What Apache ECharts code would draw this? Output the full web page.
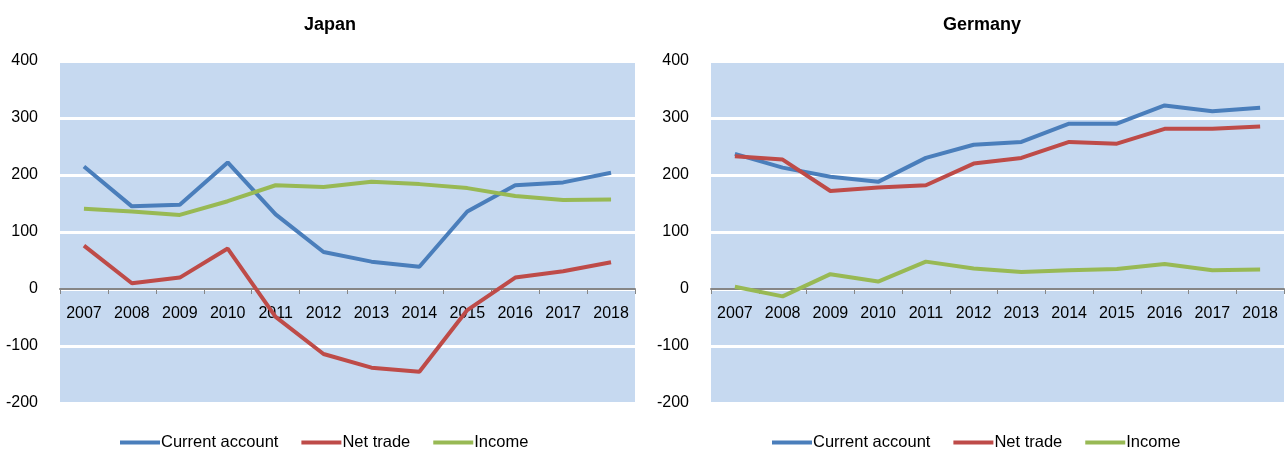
<!DOCTYPE html>
<html>
<head>
<meta charset="UTF-8">
<title>Japan / Germany</title>
<script src="https://cdn.jsdelivr.net/npm/echarts@6/dist/echarts.min.js"></script>
<style>
  html, body { margin: 0; padding: 0; background: #fff; }
  #chart { width: 1285px; height: 449px; }
</style>
</head>
<body>
<div id="chart"></div>
<script>
var years = ['2007','2008','2009','2010','2011','2012','2013','2014','2015','2016','2017','2018'];
var yTicks = [-200, 400, 100]; // min, max, step

var jpCurrent = [215, 145, 148, 222, 131, 65, 48, 39, 136, 182, 187, 204];
var jpTrade   = [76, 10, 20, 71, -49, -114, -138, -145, -37, 20, 31, 47];
var jpIncome  = [141, 136, 130, 154, 182, 179, 188, 184, 177, 163, 156, 157];

var deCurrent = [237, 213, 197, 188, 230, 253, 258, 290, 290, 322, 312, 318];
var deTrade   = [233, 227, 172, 178, 182, 220, 230, 258, 255, 281, 281, 285];
var deIncome  = [4, -13, 26, 13, 48, 36, 30, 33, 35, 44, 33, 34];

var names = ['Current account', 'Net trade', 'Income'];
var colors = ['#4a7ebb', '#be4b48', '#98b954'];
var font = 'Liberation Sans, Arial, sans-serif';

var gridTop = 61, gridH = 342;
// move the category axis (line, ticks and labels) up onto the zero line
var zeroShift = gridH * (0 - yTicks[0]) / (yTicks[1] - yTicks[0]);

function makeX(gi) {
    return {
        type: 'category',
        gridIndex: gi,
        data: years,
        boundaryGap: true,
        offset: -zeroShift,
        axisLine: { onZero: false, lineStyle: { color: '#868686', width: 2 } },
        axisTick: { show: true, length: 5, lineStyle: { color: '#868686', width: 1 } },
        axisLabel: { color: '#000', fontSize: 16, fontFamily: font, margin: 17, interval: 0 }
    };
}
function makeY(gi) {
    return {
        type: 'value',
        gridIndex: gi,
        min: yTicks[0], max: yTicks[1], interval: yTicks[2],
        axisLine: { show: false },
        axisTick: { show: false },
        axisLabel: { color: '#000', fontSize: 16, fontFamily: font, margin: 22 },
        splitLine: { show: true, lineStyle: { color: '#ffffff', width: 3 } }
    };
}
function makeSeries(name, data, color, idx) {
    return {
        name: name, type: 'line', data: data,
        xAxisIndex: idx, yAxisIndex: idx,
        symbol: 'none', smooth: false,
        lineStyle: { color: color, width: 4 },
        itemStyle: { color: color },
        animation: false
    };
}
function makeLegend(left) {
    return {
        left: left, top: 429,
        icon: 'rect', itemWidth: 40, itemHeight: 4, itemGap: 23,
        data: names,
        textStyle: { color: '#000', fontSize: 16.5, fontFamily: font, padding: [0, 0, 0, -4] }
    };
}

var chart = echarts.init(document.getElementById('chart'));
chart.setOption({
    animation: false,
    color: colors,
    title: [
        { text: 'Japan', left: 325, top: 11, textAlign: 'center',
          textStyle: { fontSize: 18, fontWeight: 'bold', color: '#000', fontFamily: font } },
        { text: 'Germany', left: 977, top: 11, textAlign: 'center',
          textStyle: { fontSize: 18, fontWeight: 'bold', color: '#000', fontFamily: font } }
    ],
    legend: [makeLegend(115), makeLegend(767)],
    grid: [
        { left: 60, top: gridTop, width: 575, height: gridH, show: true, backgroundColor: '#c6d9f0', borderWidth: 0 },
        { left: 711, top: gridTop, width: 573, height: gridH, show: true, backgroundColor: '#c6d9f0', borderWidth: 0 }
    ],
    xAxis: [makeX(0), makeX(1)],
    yAxis: [makeY(0), makeY(1)],
    series: [
        makeSeries(names[0], jpCurrent, colors[0], 0),
        makeSeries(names[1], jpTrade, colors[1], 0),
        makeSeries(names[2], jpIncome, colors[2], 0),
        makeSeries(names[0], deCurrent, colors[0], 1),
        makeSeries(names[1], deTrade, colors[1], 1),
        makeSeries(names[2], deIncome, colors[2], 1)
    ]
});
</script>
</body>
</html>
